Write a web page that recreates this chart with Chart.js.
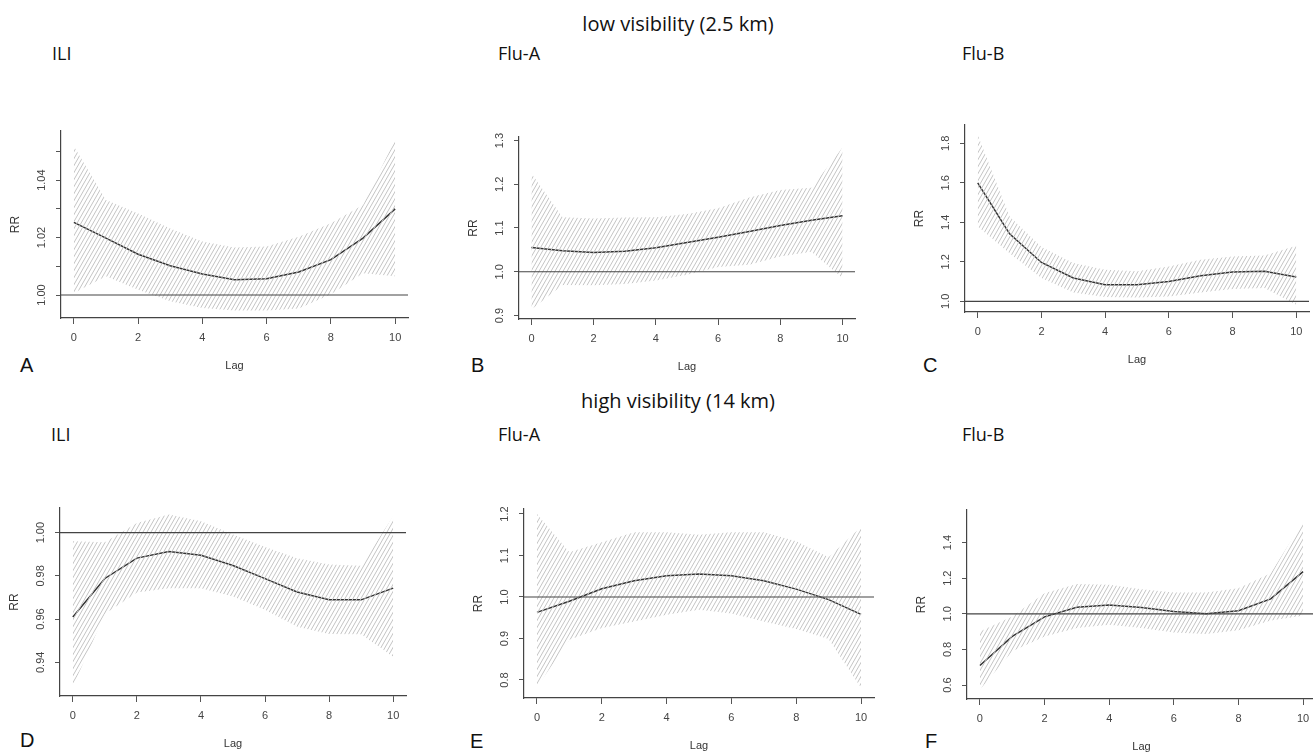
<!DOCTYPE html>
<html>
<head>
<meta charset="utf-8">
<script src="https://cdn.jsdelivr.net/npm/chart.js@4.4.1/dist/chart.umd.min.js"></script>
<style>
html, body { margin: 0; padding: 0; background: #fff; }
body { width: 1313px; height: 752px; overflow: hidden; position: relative; }
canvas { position: absolute; }
.txt { position: absolute; white-space: nowrap; color: #111; line-height: 1; transform: translateY(-50%); }
.head { font-family: "Open Sans", sans-serif; font-size: 20px; transform: translate(-50%, -50%); }
.sub { font-family: "Open Sans", sans-serif; font-size: 18px; }
.let { font-family: "Liberation Sans", Arial, sans-serif; font-size: 20px; }
</style>
</head>
<body>
<div class="txt head" style="left:678px;top:24px">low visibility (2.5 km)</div>
<div class="txt head" style="left:678px;top:401px">high visibility (14 km)</div>
<div class="txt sub" style="left:52px;top:53px">ILI</div>
<div class="txt sub" style="left:498px;top:53px">Flu-A</div>
<div class="txt sub" style="left:962px;top:53px">Flu-B</div>
<div class="txt sub" style="left:51px;top:434px">ILI</div>
<div class="txt sub" style="left:498px;top:434px">Flu-A</div>
<div class="txt sub" style="left:962px;top:434px">Flu-B</div>
<div class="txt let" style="left:20px;top:365px">A</div>
<div class="txt let" style="left:471px;top:365px">B</div>
<div class="txt let" style="left:923px;top:365px">C</div>
<div class="txt let" style="left:20px;top:740px">D</div>
<div class="txt let" style="left:470px;top:741px">E</div>
<div class="txt let" style="left:925px;top:741px">F</div>

<script>
const lags = [0, 1, 2, 3, 4, 5, 6, 7, 8, 9, 10];
const xTicks = [0, 2, 4, 6, 8, 10];
const refValue = 1;

// low visibility
const iliLowRR = [1.0253, 1.0198, 1.0142, 1.0102, 1.0073, 1.0053, 1.0057, 1.0080, 1.0123, 1.0198, 1.0300];
const iliLowHi = [1.0518, 1.0331, 1.0284, 1.0232, 1.0186, 1.0165, 1.0169, 1.0203, 1.0250, 1.0313, 1.0541];
const iliLowLo = [1.0007, 1.0065, 1.0018, 0.9978, 0.9955, 0.9946, 0.9946, 0.9953, 1.0003, 1.0076, 1.0065];

const fluALowRR = [1.0554, 1.048, 1.044, 1.047, 1.0546, 1.067, 1.079, 1.092, 1.1055, 1.1176, 1.128];
const fluALowHi = [1.2247, 1.1245, 1.122, 1.124, 1.1245, 1.132, 1.145, 1.170, 1.187, 1.192, 1.284];
const fluALowLo = [0.9135, 0.970, 0.969, 0.972, 0.980, 0.993, 1.0106, 1.016, 1.035, 1.046, 0.9856];

const fluBLowRR = [1.600, 1.342, 1.197, 1.118, 1.084, 1.084, 1.101, 1.130, 1.148, 1.152, 1.123];
const fluBLowHi = [1.842, 1.429, 1.275, 1.194, 1.160, 1.152, 1.177, 1.210, 1.227, 1.232, 1.281];
const fluBLowLo = [1.379, 1.244, 1.118, 1.045, 1.022, 1.020, 1.025, 1.045, 1.062, 1.067, 0.983];

// high visibility
const iliHighRR = [0.961, 0.9788, 0.9882, 0.9913, 0.9895, 0.9848, 0.9787, 0.9725, 0.9689, 0.9689, 0.9743];
const iliHighHi = [0.996, 0.9955, 1.0045, 1.0084, 1.0053, 0.9991, 0.9934, 0.9882, 0.9852, 0.9847, 1.0076];
const iliHighLo = [0.9287, 0.9624, 0.9723, 0.9743, 0.9743, 0.9705, 0.9643, 0.9565, 0.9531, 0.953, 0.9426];

const fluAHighRR = [0.963, 0.9896, 1.020, 1.039, 1.0514, 1.0554, 1.0514, 1.039, 1.019, 0.9936, 0.958];
const fluAHighHi = [1.200, 1.1076, 1.1317, 1.156, 1.156, 1.150, 1.156, 1.156, 1.134, 1.096, 1.169];
const fluAHighLo = [0.783, 0.897, 0.925, 0.941, 0.957, 0.969, 0.960, 0.941, 0.923, 0.899, 0.781];

const fluBHighRR = [0.710, 0.873, 0.983, 1.037, 1.050, 1.036, 1.013, 1.000, 1.017, 1.084, 1.237];
const fluBHighHi = [0.901, 0.985, 1.116, 1.168, 1.163, 1.138, 1.120, 1.120, 1.144, 1.228, 1.518];
const fluBHighLo = [0.574, 0.789, 0.873, 0.920, 0.938, 0.920, 0.895, 0.886, 0.907, 0.963, 0.989];

// y ticks and their labels (R drops some labels)
const iliLowTicks = [1.00, 1.01, 1.02, 1.03, 1.04, 1.05];
const iliLowLabels = ['1.00', '', '1.02', '', '1.04', ''];
const fluALowTicks = [0.9, 1.0, 1.1, 1.2, 1.3];
const fluALowLabels = ['0.9', '1.0', '1.1', '1.2', '1.3'];
const fluBLowTicks = [1.0, 1.2, 1.4, 1.6, 1.8];
const fluBLowLabels = ['1.0', '1.2', '1.4', '1.6', '1.8'];
const iliHighTicks = [0.94, 0.96, 0.98, 1.00];
const iliHighLabels = ['0.94', '0.96', '0.98', '1.00'];
const fluAHighTicks = [0.8, 0.9, 1.0, 1.1, 1.2];
const fluAHighLabels = ['0.8', '0.9', '1.0', '1.1', '1.2'];
const fluBHighTicks = [0.6, 0.8, 1.0, 1.2, 1.4];
const fluBHighLabels = ['0.6', '0.8', '1.0', '1.2', '1.4'];

// panel placement: pixel of lag 0 / lag 10, plot top / bottom, y range
var panels = [
    {est: iliLowRR, hi: iliLowHi, lo: iliLowLo, ticks: iliLowTicks, labels: iliLowLabels,
     yMin: 0.992, yMax: 1.0571, x0: 74, x10: 395, top: 131, bottom: 318},
    {est: fluALowRR, hi: fluALowHi, lo: fluALowLo, ticks: fluALowTicks, labels: fluALowLabels,
     yMin: 0.892, yMax: 1.308, x0: 531.7, x10: 842.7, top: 137, bottom: 319},
    {est: fluBLowRR, hi: fluBLowHi, lo: fluBLowLo, ticks: fluBLowTicks, labels: fluBLowLabels,
     yMin: 0.946, yMax: 1.893, x0: 977.3, x10: 1296.7, top: 125, bottom: 312},
    {est: iliHighRR, hi: iliHighHi, lo: iliHighLo, ticks: iliHighTicks, labels: iliHighLabels,
     yMin: 0.9244, yMax: 1.0114, x0: 72.7, x10: 393.3, top: 508, bottom: 696},
    {est: fluAHighRR, hi: fluAHighHi, lo: fluAHighLo, ticks: fluAHighTicks, labels: fluAHighLabels,
     yMin: 0.7566, yMax: 1.212, x0: 536.7, x10: 860.7, top: 509, bottom: 698},
    {est: fluBHighRR, hi: fluBHighHi, lo: fluBHighLo, ticks: fluBHighTicks, labels: fluBHighLabels,
     yMin: 0.5215, yMax: 1.583, x0: 980, x10: 1303.3, top: 510, bottom: 699}
];

var AXW = 53, AXH = 55, PADT = 4, PADR = 3;
var axisFont = {family: '"Liberation Sans", Arial, sans-serif', size: 11};

function hatch(ctx) {
    var w = 4, h = 7;
    var tile = document.createElement('canvas');
    tile.width = w; tile.height = h;
    var g = tile.getContext('2d');
    g.strokeStyle = '#c4c4c4';
    g.lineWidth = 1;
    g.beginPath();
    [-w, 0, w].forEach(function (dx) { g.moveTo(dx, h); g.lineTo(dx + w, 0); });
    g.stroke();
    return ctx.createPattern(tile, 'repeat');
}

var rotLabels = {
    id: 'rotLabels',
    afterDraw: function (chart, args, opts) {
        var ctx = chart.ctx, y = chart.scales.y;
        ctx.save();
        ctx.font = '11px "Liberation Sans", Arial, sans-serif';
        ctx.fillStyle = '#444';
        ctx.textAlign = 'center';
        ctx.textBaseline = 'middle';
        opts.ticks.forEach(function (v, i) {
            if (!opts.labels[i]) return;
            ctx.save();
            ctx.translate(chart.chartArea.left - 19, y.getPixelForValue(v));
            ctx.rotate(-Math.PI / 2);
            ctx.fillText(opts.labels[i], 0, 0);
            ctx.restore();
        });
        ctx.restore();
    }
};

var refLine = {
    id: 'refLine',
    afterDatasetsDraw: function (chart) {
        var ctx = chart.ctx, a = chart.chartArea;
        var py = chart.scales.y.getPixelForValue(refValue);
        ctx.save();
        ctx.strokeStyle = '#444';
        ctx.lineWidth = 1.2;
        ctx.beginPath();
        ctx.moveTo(a.left, py);
        ctx.lineTo(a.right, py);
        ctx.stroke();
        ctx.restore();
    }
};

function pts(arr) {
    return arr.map(function (v, i) { return {x: lags[i], y: v}; });
}

panels.forEach(function (p) {
    var per = (p.x10 - p.x0) / 10;
    var plotL = Math.round(p.x0 - 0.4 * per);
    var plotW = Math.round(p.x10 + 0.4 * per) - plotL;
    var cv = document.createElement('canvas');
    cv.width = AXW + plotW + PADR;
    cv.height = PADT + (p.bottom - p.top) + AXH;
    cv.style.left = (plotL - AXW) + 'px';
    cv.style.top = (p.top - PADT) + 'px';
    document.body.appendChild(cv);
    var ctx = cv.getContext('2d');

    new Chart(ctx, {
        type: 'line',
        data: {
            datasets: [
                {data: pts(p.lo), borderWidth: 0, borderColor: 'rgba(0,0,0,0)', pointRadius: 0, fill: false},
                {data: pts(p.hi), borderWidth: 0, borderColor: 'rgba(0,0,0,0)', pointRadius: 0,
                 fill: '-1', backgroundColor: hatch(ctx)},
                {data: pts(p.est), borderWidth: 1.5, borderColor: '#333', pointRadius: 0, fill: false}
            ]
        },
        options: {
            responsive: false,
            animation: false,
            events: [],
            layout: {padding: {top: PADT, right: PADR, left: 0, bottom: 0}},
            elements: {line: {tension: 0}},
            plugins: {
                legend: {display: false},
                tooltip: {enabled: false},
                rotLabels: {ticks: p.ticks, labels: p.labels}
            },
            scales: {
                x: {
                    type: 'linear',
                    min: -0.4,
                    max: 10.4,
                    afterBuildTicks: function (s) { s.ticks = xTicks.map(function (v) { return {value: v}; }); },
                    afterFit: function (s) { s.height = AXH; },
                    ticks: {font: axisFont, color: '#444', padding: 7, maxRotation: 0},
                    grid: {display: true, drawOnChartArea: false, drawTicks: true, tickLength: 6, color: '#555'},
                    border: {display: true, color: '#444', width: 1.2},
                    title: {display: true, text: 'Lag', font: axisFont, color: '#333', padding: 0}
                },
                y: {
                    min: p.yMin,
                    max: p.yMax,
                    afterBuildTicks: function (s) { s.ticks = p.ticks.map(function (v) { return {value: v}; }); },
                    afterFit: function (s) { s.width = AXW; },
                    ticks: {display: false},
                    grid: {display: true, drawOnChartArea: false, drawTicks: true, tickLength: 5, color: '#555'},
                    border: {display: true, color: '#444', width: 1.2},
                    title: {display: true, text: 'RR', font: {family: axisFont.family, size: 12}, color: '#333', padding: 0}
                }
            }
        },
        plugins: [rotLabels, refLine]
    });
});
</script>
</body>
</html>
